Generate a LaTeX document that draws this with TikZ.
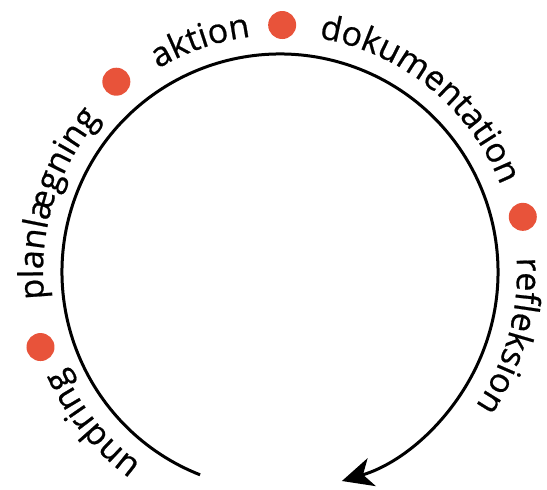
\documentclass[tikz,border=0pt]{standalone}
\usepackage{fontspec}
\newfontfamily\wordfont[FakeBold=0.6]{Open Sans}
\usetikzlibrary{decorations.text,arrows.meta,calc}
\definecolor{dotred}{RGB}{232,83,58}
\tikzset{
  cycleline/.style={line width=3pt, -{Stealth[length=31pt,width=29pt,inset=9pt]}},
  reddot/.style={circle, fill=dotred, minimum size=28pt, inner sep=0pt},
  wordarc/.style={decorate, decoration={text along path, text align=center, text={|\wordfont\fontsize{34pt}{40pt}\selectfont|#1}}}
}
\begin{document}
\begin{tikzpicture}[x=1pt,y=1pt]
\useasboundingbox (0,0) rectangle (547,490);
\coordinate (c) at (280,218);
\coordinate (start) at ($(c)+(248.5:218)$);
% main cycle
\draw[cycleline] (start) arc[start angle=248.5, end angle=-73.5, radius=218];
% words
\path[wordarc={undring}] ($(c)+(264:237)$) arc[start angle=264, end angle=174, radius=237];
\path[wordarc={planlægning}] ($(c)+(208:237)$) arc[start angle=208, end angle=118, radius=237];
\path[wordarc={aktion}] ($(c)+(154:237)$) arc[start angle=154, end angle=64, radius=237];
\path[wordarc={dokumentation}] ($(c)+(96:237)$) arc[start angle=96, end angle=6, radius=237];
\path[wordarc={refleksion}] ($(c)+(29.5:237)$) arc[start angle=29.5, end angle=-60.5, radius=237];
% dots
\node[reddot] (d1) at ($(c)+(197.4:251)$) {};
\node[reddot] (d2) at ($(c)+(130.7:251)$) {};
\node[reddot] (d3) at ($(c)+(89.5:247)$) {};
\node[reddot] (d4) at ($(c)+(12.8:249)$) {};
\end{tikzpicture}
\end{document}
